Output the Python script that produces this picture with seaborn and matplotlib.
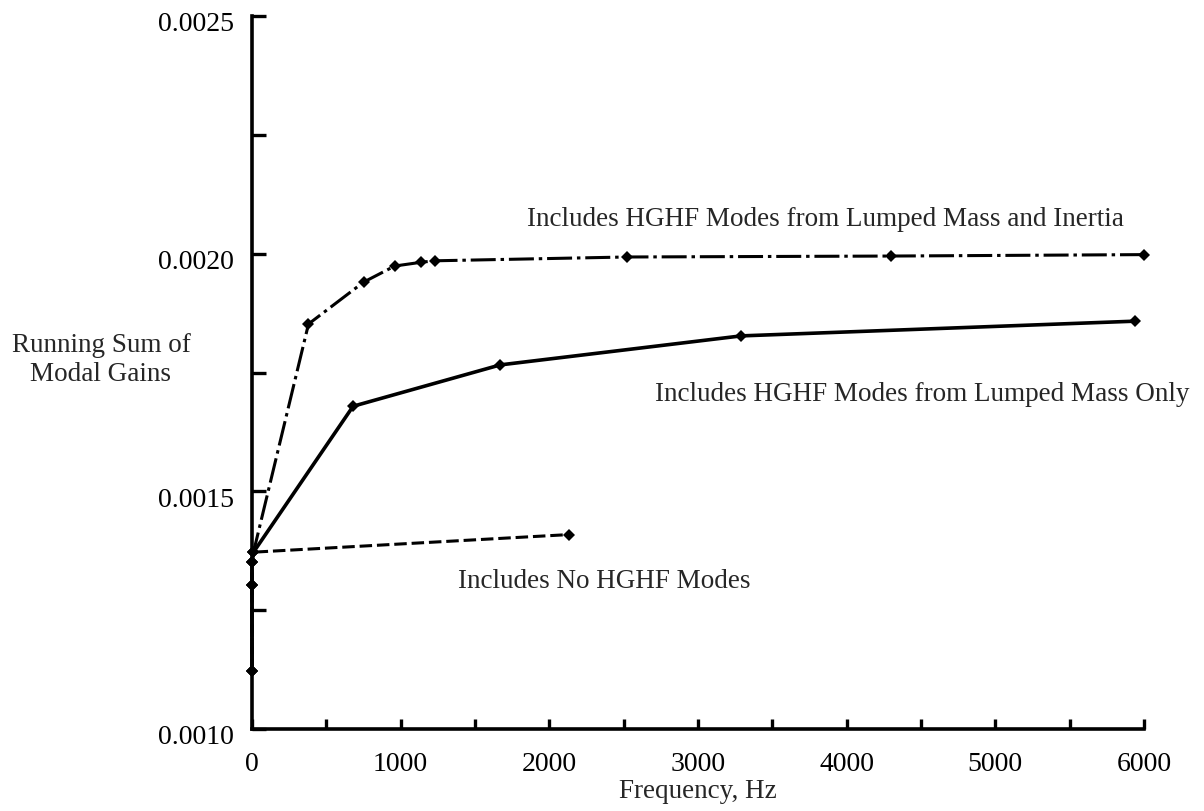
import numpy as np
import pandas as pd
import matplotlib
matplotlib.use("Agg")
import matplotlib.pyplot as plt
import matplotlib.transforms as mtransforms
import seaborn as sns

# Running sum of modal gains versus frequency (Hz)
freq_inertia = [0, 0, 0, 10, 380, 750, 960, 1140, 1230, 2520, 4300, 6000]
gain_inertia = [0.001121, 0.001303, 0.001351, 0.001372, 0.001852, 0.001940,
                0.001974, 0.001982, 0.001985, 0.001993, 0.001995, 0.001998]

freq_mass_only = [0, 0, 0, 10, 680, 1670, 3290, 5940]
gain_mass_only = [0.001121, 0.001303, 0.001351, 0.001372, 0.001679, 0.001766,
                  0.001827, 0.001858]

freq_no_hghf = [0, 0, 0, 10, 2130]
gain_no_hghf = [0.001121, 0.001303, 0.001351, 0.001372, 0.001409]

x_ticks = [0, 1000, 2000, 3000, 4000, 5000, 6000]
x_tick_labels = ["0", "1000", "2000", "3000", "4000", "5000", "6000"]
y_ticks = [0.0010, 0.0015, 0.0020, 0.0025]
y_tick_labels = ["0.0010", "0.0015", "0.0020", "0.0025"]

label_inertia = "Includes HGHF Modes from Lumped Mass and Inertia"
label_mass_only = "Includes HGHF Modes from Lumped Mass Only"
label_no_hghf = "Includes No HGHF Modes"

sns.set_style("ticks")
plt.rcParams["font.family"] = ["Liberation Serif", "DejaVu Serif"]
plt.rcParams["lines.scale_dashes"] = False

fig = plt.figure(figsize=(12.04, 8.12), dpi=100)
ax = fig.add_axes([252 / 1204, 82 / 812, 892 / 1204, 713 / 812])

series = [
    (freq_inertia, gain_inertia, (0, (18, 3.5, 2.5, 3.5)), 2.2),
    (freq_mass_only, gain_mass_only, "-", 2.6),
    (freq_no_hghf, gain_no_hghf, (0, (9, 3.5)), 2.2),
]
for fx, gy, ls, lw in series:
    df = pd.DataFrame({"freq": fx, "gain": gy})
    sns.lineplot(data=df, x="freq", y="gain", ax=ax, estimator=None, sort=False,
                 color="black", linestyle=ls, linewidth=lw, marker="D",
                 markersize=6.5, markeredgewidth=0, clip_on=False)

ax.set_xlim(0, 6000)
ax.set_ylim(0.0010, 0.0025)

ax.set_xticks(x_ticks)
ax.set_xticklabels(x_tick_labels)
ax.set_xticks(np.arange(500, 6001, 1000), minor=True)
ax.set_yticks(y_ticks)
ax.set_yticklabels(y_tick_labels)
ax.set_yticks([0.00125, 0.00175, 0.00225], minor=True)

ax.tick_params(axis="both", which="both", direction="in", width=2.4,
               color="black", labelsize=20, labelcolor="black")
ax.tick_params(axis="x", which="both", length=7, pad=16)
ax.tick_params(axis="y", which="both", length=10, pad=13)

# nudge y tick labels slightly below their ticks
shift = mtransforms.ScaledTranslation(0, -5 / 100, fig.dpi_scale_trans)
for lbl in ax.get_yticklabels():
    lbl.set_transform(lbl.get_transform() + shift)

for side in ["top", "right"]:
    ax.spines[side].set_visible(False)
for side in ["left", "bottom"]:
    ax.spines[side].set_linewidth(2.6)
    ax.spines[side].set_color("black")

ax.set_xlabel("Frequency, Hz", fontsize=19.5, va="center")
ax.xaxis.set_label_coords(0.5, -62 / 713)
ax.set_ylabel("")
fig.text(101 / 1204, 1 - 360 / 812, "Running Sum of\nModal Gains", ha="center",
         va="center", fontsize=19.5, linespacing=1.25)

ax.text(527, 220, label_inertia, transform=None, fontsize=19.5, va="center")
ax.text(655, 395, label_mass_only, transform=None, fontsize=19.5, va="center")
ax.text(458, 582, label_no_hghf, transform=None, fontsize=19.5, va="center")

# place the annotations in pixel space measured from the top edge
for t in ax.texts:
    x, y = t.get_position()
    t.set_transform(fig.transFigure)
    t.set_position((x / 1204, 1 - y / 812))

fig.savefig("out.png", dpi=100)
